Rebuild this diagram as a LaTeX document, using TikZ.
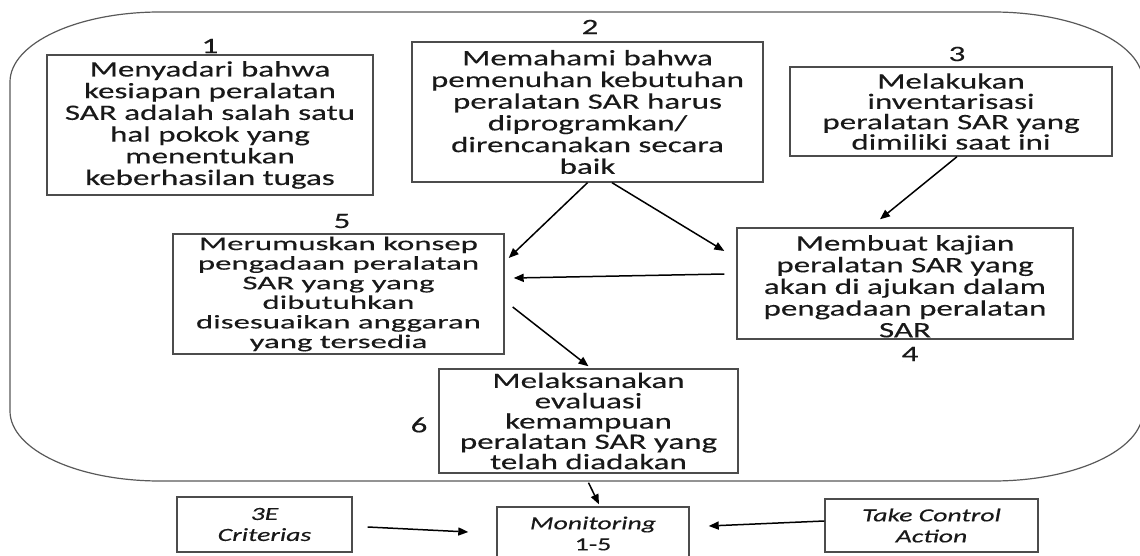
\documentclass[tikz,border=0pt]{standalone}
\usepackage{fontspec}
\setmainfont{Carlito}[FakeStretch=1.5,FakeBold=0.3]
\newfontfamily\tightfont{Carlito}[FakeStretch=1.7,FakeBold=0.3]
\usetikzlibrary{arrows.meta,calc}
\definecolor{framegray}{gray}{0.35}
\definecolor{boxgray}{gray}{0.3}
\definecolor{inkc}{gray}{0.1}
\newcommand{\bodysz}[1]{\fontsize{22}{#1}\selectfont}

\begin{document}
\begin{tikzpicture}[x=1pt,y=-1pt,
  stepbox/.style={draw=boxgray, line width=1.4pt, align=center, inner sep=0pt, text=inkc, font=\bodysz{21.7}},
  numlabel/.style={text=inkc, font=\bodysz{21.7}, inner sep=0pt},
  flow/.style={draw=black, line width=1.5pt, -{Triangle[length=10pt,width=8pt]}},
  critbox/.style={stepbox, font=\fontsize{18.5}{21}\selectfont\itshape}
]
\useasboundingbox (0,0) rectangle (1140,556);
\clip (0,0) rectangle (1140,556);

% outer rounded frame around steps 1-6
\draw[framegray, line width=1.2pt]
  (160,12) -- (993,12)
  .. controls (1075.8,12) and (1143,43.3) .. (1143,82)
  -- (1143,411)
  .. controls (1143,449.7) and (1075.8,481) .. (993,481)
  -- (160,481)
  .. controls (77.2,481) and (10,449.7) .. (10,411)
  -- (10,82)
  .. controls (10,43.3) and (77.2,12) .. (160,12) -- cycle;

% steps
\node[stepbox, minimum width=326pt, minimum height=140pt] (b1) at (210,125)
  {Menyadari bahwa\\kesiapan peralatan\\SAR adalah salah satu\\hal pokok yang\\menentukan\\keberhasilan tugas};
\node[stepbox, minimum width=351pt, minimum height=140pt] (b2) at (587.5,112)
  {Memahami bahwa\\pemenuhan kebutuhan\\peralatan SAR harus\\diprogramkan/\\direncanakan secara\\baik};
\node[stepbox, font=\bodysz{20.3}, minimum width=322pt, minimum height=89pt] (b3) at (951,111.5)
  {Melakukan\\inventarisasi\\peralatan SAR yang\\dimiliki saat ini};
\node[stepbox, minimum width=336pt, minimum height=111pt] (b4) at (905,283.5)
  {\rule{0pt}{21pt}Membuat kajian\\peralatan SAR yang\\akan di ajukan dalam\\pengadaan peralatan\\SAR};
\node[stepbox, font=\tightfont\fontsize{19.3}{19.6}\selectfont, minimum width=331pt, minimum height=120pt] (b5) at (338.5,294)
  {Merumuskan konsep\\pengadaan peralatan\\SAR yang yang\\dibutuhkan\\disesuaikan anggaran\\yang tersedia};
\node[stepbox, font=\bodysz{20.3}, minimum width=299pt, minimum height=104pt] (b6) at (588.5,421)
  {Melaksanakan\\evaluasi\\kemampuan\\peralatan SAR yang\\telah diadakan};

% step numbers
\node[numlabel] (n1) at (210,46) {1};
\node[numlabel] (n2) at (590,27) {2};
\node[numlabel] (n3) at (957,54) {3};
\node[numlabel] (n4) at (910,354) {4};
\node[numlabel] (n5) at (342,221) {5};
\node[numlabel] (n6) at (419,425) {6};

% monitoring row
\node[critbox, minimum width=175pt, minimum height=55pt] (crit) at (264.5,524.5) {3E\\Criterias};
\node[critbox, minimum width=192pt, minimum height=53pt] (mon) at (593,533.5) {Monitoring\\\upshape 1-5};
\node[critbox, minimum width=213pt, minimum height=53pt] (tca) at (931.5,525.5) {Take Control\\Action};

% connectors
\draw[flow] (b2.south) -- ([xshift=4pt,yshift=36pt]b5.east);
\draw[flow] ([xshift=24.5pt]b2.south) -- ([xshift=-12pt,yshift=32.5pt]b4.west);
\draw[flow] ([xshift=6pt]b3.south) -- ([xshift=-25pt,yshift=8pt]b4.north);
\draw[flow] ([xshift=-12pt,yshift=9.5pt]b4.west) -- ([xshift=9pt,yshift=16pt]b5.east);
\draw[flow] ([xshift=8pt,yshift=-13pt]b5.east) -- ([yshift=2pt]b6.north);
\draw[flow] ([yshift=-9pt]b6.south) -- ([xshift=6pt,yshift=2pt]mon.north);
\draw[flow] ([xshift=15pt,yshift=-2.5pt]crit.east) -- ([xshift=-28pt,yshift=1.5pt]mon.west);
\draw[flow] ([yshift=4.5pt]tca.west) -- ([xshift=19pt,yshift=7.5pt]mon.east);
\end{tikzpicture}
\end{document}
